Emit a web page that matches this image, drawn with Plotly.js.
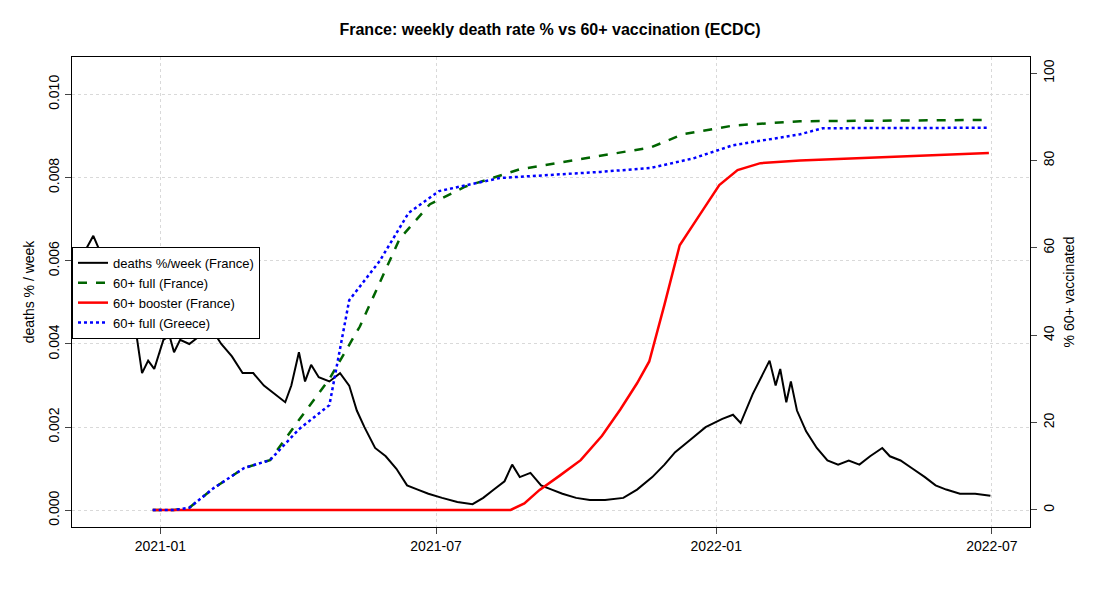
<!DOCTYPE html>
<html>
<head>
<script src="https://cdn.plot.ly/plotly-3.0.1.min.js"></script>
<style>body{margin:0;background:#fff}</style>
</head>
<body>
<div id="chart" style="width:1100px;height:600px"></div>
<script>
// weekly death rate (% of population), France
const deathDates = ['2020-11-12','2020-11-18','2020-11-25','2020-12-02','2020-12-09','2020-12-16','2020-12-20','2020-12-24','2020-12-28',
  '2021-01-03','2021-01-07','2021-01-10','2021-01-14','2021-01-20','2021-01-27','2021-02-03','2021-02-10','2021-02-17','2021-02-24',
  '2021-03-03','2021-03-10','2021-03-17','2021-03-24','2021-03-28','2021-04-02','2021-04-06','2021-04-10','2021-04-15','2021-04-22',
  '2021-04-29','2021-05-05','2021-05-10','2021-05-15','2021-05-22','2021-05-29','2021-06-05','2021-06-12','2021-06-19','2021-06-26',
  '2021-07-05','2021-07-15','2021-07-25','2021-08-01','2021-08-08','2021-08-15','2021-08-20','2021-08-25','2021-09-01','2021-09-08',
  '2021-09-15','2021-09-22','2021-10-01','2021-10-10','2021-10-20','2021-11-01','2021-11-10','2021-11-20','2021-11-28','2021-12-05',
  '2021-12-15','2021-12-25','2022-01-05','2022-01-12','2022-01-17','2022-01-25','2022-02-05','2022-02-09','2022-02-12','2022-02-16',
  '2022-02-19','2022-02-23','2022-03-01','2022-03-08','2022-03-15','2022-03-22','2022-03-29','2022-04-05','2022-04-12','2022-04-20',
  '2022-04-25','2022-05-02','2022-05-10','2022-05-18','2022-05-25','2022-06-01','2022-06-10','2022-06-20','2022-06-30'];
const deathRate = [0.0062,0.0066,0.0060,0.0052,0.0047,0.0043,0.0033,0.0036,0.0034,
  0.0041,0.0042,0.0038,0.0041,0.0040,0.0042,0.0044,0.0040,0.0037,0.0033,
  0.0033,0.0030,0.0028,0.0026,0.0030,0.0038,0.0031,0.0035,0.0032,0.0031,
  0.0033,0.0030,0.0024,0.0020,0.0015,0.0013,0.0010,0.0006,0.0005,0.0004,
  0.0003,0.0002,0.00015,0.0003,0.0005,0.0007,0.0011,0.0008,0.0009,0.0006,
  0.0005,0.0004,0.0003,0.00025,0.00025,0.0003,0.0005,0.0008,0.0011,0.0014,
  0.0017,0.0020,0.0022,0.0023,0.0021,0.0028,0.0036,0.0030,0.0034,0.0026,
  0.0031,0.0024,0.0019,0.0015,0.0012,0.0011,0.0012,0.0011,0.0013,0.0015,
  0.0013,0.0012,0.0010,0.0008,0.0006,0.0005,0.0004,0.0004,0.00035];

// 60+ fully vaccinated, France (%)
const frFullDates = ['2020-12-27','2021-01-10','2021-01-20','2021-02-05','2021-02-25','2021-03-14','2021-04-02','2021-04-22','2021-05-12','2021-05-25',
  '2021-06-07','2021-06-27','2021-07-20','2021-08-25','2021-10-17','2021-11-19','2021-12-10','2022-01-12','2022-02-25','2022-06-29'];
const frFull = [0,0,0.5,5,9.6,11.4,20.6,30,42,52,62,70,74,78,81,83,86,88,89,89.3];

// 60+ fully vaccinated, Greece (%)
const grFullDates = ['2020-12-27','2021-01-10','2021-01-20','2021-02-05','2021-02-25','2021-03-14','2021-04-02','2021-04-22','2021-05-05','2021-05-25',
  '2021-06-13','2021-07-03','2021-08-12','2021-10-17','2021-11-19','2021-12-17','2022-01-12','2022-02-25','2022-03-12','2022-06-29'];
const grFull = [0,0,0.5,5,9.6,11.4,18.5,24,48,57,68,73,76,77.4,78.3,80.5,83.5,86,87.4,87.5];

// 60+ booster, France (%)
const frBoostDates = ['2020-12-27','2021-08-19','2021-08-28','2021-09-07','2021-09-20','2021-10-04','2021-10-18','2021-10-30','2021-11-10','2021-11-18',
  '2021-11-28','2021-12-08','2021-12-21','2022-01-03','2022-01-15','2022-01-30','2022-02-25','2022-06-29'];
const frBoost = [0,0,1.5,4.6,7.8,11.4,17,23,29,34,47,60.6,67.5,74.4,77.8,79.4,80,81.7];

const fnt = {family: 'Liberation Sans, Arial, sans-serif', size: 14, color: '#000'};
const grid = {showgrid: true, gridcolor: '#d9d9d9', griddash: 'dot', gridwidth: 1};

const traces = [
  {x: deathDates, y: deathRate, type: 'scatter', mode: 'lines', name: 'deaths %/week (France)',
   line: {color: '#000', width: 2}},
  {x: frFullDates, y: frFull, type: 'scatter', mode: 'lines', name: '60+ full (France)', yaxis: 'y2',
   line: {color: '#006400', width: 2.5, dash: 'dash'}},
  {x: frBoostDates, y: frBoost, type: 'scatter', mode: 'lines', name: '60+ booster (France)', yaxis: 'y2',
   line: {color: '#ff0000', width: 2.5}},
  {x: grFullDates, y: grFull, type: 'scatter', mode: 'lines', name: '60+ full (Greece)', yaxis: 'y2',
   line: {color: '#0000ff', width: 2.5, dash: 'dot'}}
];

const layout = {
  width: 1100, height: 600,
  paper_bgcolor: 'white', plot_bgcolor: 'white',
  margin: {l: 72, r: 70, t: 57, b: 73},
  font: fnt,
  showlegend: true,
  title: {text: '<b>France: weekly death rate % vs 60+ vaccination (ECDC)</b>', x: 0.5, y: 0.96, font: {size: 16}},
  xaxis: {...grid, type: 'date', range: ['2020-11-04', '2022-07-26'],
    tickvals: ['2021-01-01', '2021-07-01', '2022-01-01', '2022-07-01'],
    ticktext: ['2021-01', '2021-07', '2022-01', '2022-07'],
    ticks: 'outside', ticklen: 6, showline: true, mirror: true, linecolor: '#000', zeroline: false},
  yaxis: {...grid, range: [-0.0004, 0.0109], tickvals: [0, 0.002, 0.004, 0.006, 0.008, 0.010],
    ticktext: ['0.000', '0.002', '0.004', '0.006', '0.008', '0.010'], tickangle: -90,
    ticks: 'outside', ticklen: 6, showline: true, mirror: true, linecolor: '#000', zeroline: false,
    title: {text: 'deaths % / week', font: fnt, standoff: 8}},
  yaxis2: {overlaying: 'y', side: 'right', range: [-3.9, 103.7], tickvals: [0, 20, 40, 60, 80, 100],
    tickangle: -90, ticks: 'outside', ticklen: 6, showgrid: false, zeroline: false,
    title: {text: '% 60+ vaccinated', font: fnt, standoff: 8}},
  legend: {x: 0, y: 0.596, xanchor: 'left', yanchor: 'top', bgcolor: 'white',
    bordercolor: '#000', borderwidth: 1, font: {...fnt, size: 13}, tracegroupgap: 0}
};

Plotly.newPlot('chart', traces, layout, {displayModeBar: false});
</script>
</body>
</html>
